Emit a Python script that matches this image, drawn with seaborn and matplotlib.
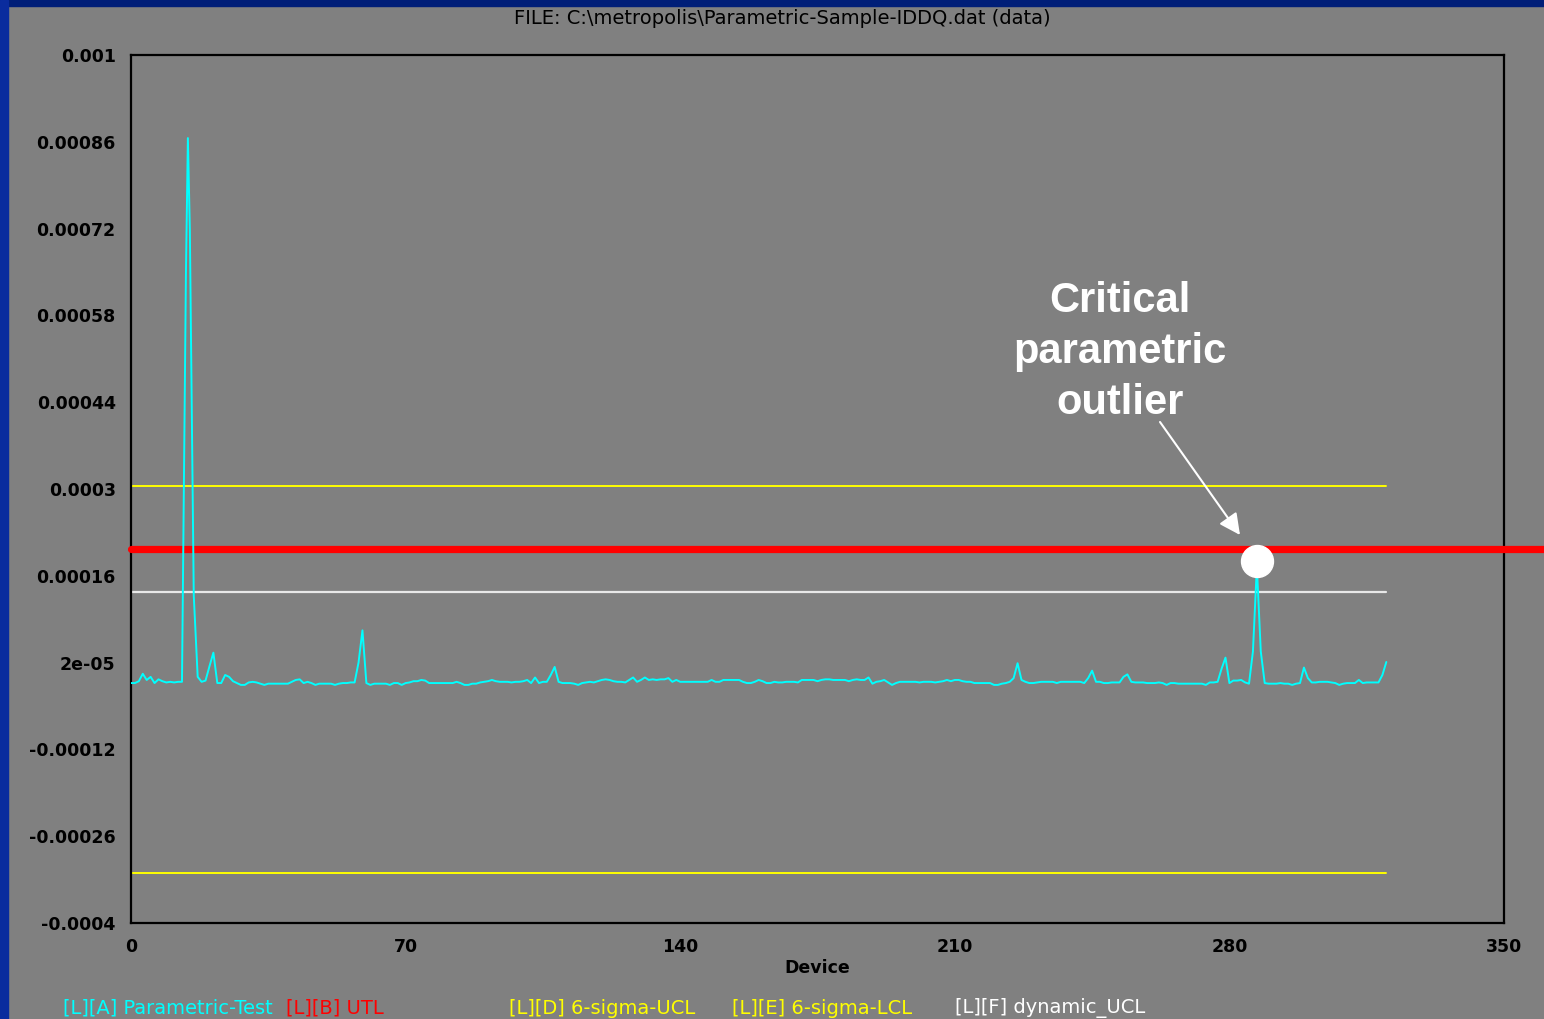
import numpy as np
import pandas as pd
import matplotlib
matplotlib.use("Agg")
import matplotlib.pyplot as plt
from matplotlib.patches import Rectangle
import seaborn as sns

# ---------------- data (values in micro-amps) ----------------
iddq_uA = [
    -13, -13, -10, 2, -8, -3, -13, -7, -10, -12,          # 0-9
    -11, -12, -11, -11, 646, 718, 128, -3, -11, -9,      # 10-19
    14, 36, -13, -13, 0, -3, -10, -13, -16, -16,          # 20-29
    -12, -11, -12, -14, -16, -14, -14, -14, -14, -14,     # 30-39
    -14, -11, -8, -7, -13, -11, -13, -16, -14, -14,       # 40-49
    -14, -14, -16, -14, -13, -13, -12, -12, 20, 72,       # 50-59
    -13, -16, -14, -14, -14, -14, -16, -13, -13, -16,     # 60-69
    -13, -12, -10, -10, -8, -9, -13, -13, -13, -13,       # 70-79
    -13, -13, -13, -11, -13, -16, -16, -14, -14, -12,     # 80-89
    -11, -10, -8, -10, -11, -11, -11, -12, -11, -11,      # 90-99
    -10, -8, -13, -4, -13, -11, -11, 0, 13, -11,          # 100-109
    -13, -13, -13, -14, -16, -13, -12, -11, -12, -10,     # 110-119
    -8, -7, -8, -10, -11, -11, -12, -8, -4, -11,          # 120-129
    -8, -4, -8, -7, -8, -7, -7, -5, -11, -8,              # 130-139
    -11, -11, -11, -11, -11, -11, -11, -11, -8, -11,      # 140-149
    -11, -8, -8, -8, -8, -8, -11, -13, -13, -11,          # 150-159
    -8, -10, -13, -13, -11, -12, -12, -11, -11, -11,      # 160-169
    -12, -8, -8, -8, -8, -10, -8, -7, -7, -8,             # 170-179
    -8, -8, -8, -10, -8, -7, -8, -8, -4, -14,             # 180-189
    -11, -10, -8, -12, -16, -13, -11, -11, -11, -11,      # 190-199
    -11, -12, -11, -11, -11, -12, -11, -10, -8, -10,      # 200-209
    -8, -8, -10, -11, -11, -13, -13, -13, -13, -13,       # 210-219
    -16, -16, -14, -13, -11, -5, 19, -8, -11, -13,        # 220-229
    -13, -12, -11, -11, -11, -11, -13, -11, -11, -11,     # 230-239
    -11, -11, -11, -13, -5, 7, -11, -11, -13, -13,        # 240-249
    -12, -12, -12, -3, 1, -11, -12, -12, -12, -13,        # 250-259
    -13, -13, -12, -13, -16, -13, -13, -14, -14, -14,     # 260-269
    -14, -14, -14, -14, -16, -12, -12, -11, 10, 28,       # 270-279
    -13, -9, -9, -8, -12, -14, 38, 175, 38, -13,          # 280-289
    -14, -14, -14, -13, -14, -14, -16, -14, -13, 12,      # 290-299
    -5, -12, -12, -11, -11, -11, -12, -13, -16, -14,      # 300-309
    -13, -13, -13, -8, -13, -12, -12, -12, -12, 0,        # 310-319
    21,                                                   # 320
]
# extra half-step samples inside the big early excursion
extra_device = [14.5, 15.5]
extra_uA = [866, 424]

utl = 203e-6
six_sigma_ucl = 305e-6
six_sigma_lcl = -319e-6
dynamic_ucl = 134e-6
outlier_device = 287
outlier_value = 184e-6

y_ticks = [0.001, 0.00086, 0.00072, 0.00058, 0.00044, 0.0003, 0.00016, 2e-05,
           -0.00012, -0.00026, -0.0004]
y_tick_labels = ["0.001", "0.00086", "0.00072", "0.00058", "0.00044", "0.0003",
                 "0.00016", "2e-05", "-0.00012", "-0.00026", "-0.0004"]
x_ticks = [0, 70, 140, 210, 280, 350]
x_minor = [35, 105, 175, 245, 315]

title = "FILE: C:\\metropolis\\Parametric-Sample-IDDQ.dat (data)"
legend_items = [("[L][A] Parametric-Test", "#00FFFF"),
                ("[L][B] UTL", "#FF0000"),
                ("[L][D] 6-sigma-UCL", "#FFFF00"),
                ("[L][E] 6-sigma-LCL", "#FFFF00"),
                ("[L][F] dynamic_UCL", "#FFFFFF")]

# ---------------- build table ----------------
dev = list(range(len(iddq_uA))) + extra_device
vals = list(iddq_uA) + extra_uA
df = pd.DataFrame({"Device": dev, "IDDQ": np.array(vals) * 1e-6}).sort_values("Device")
n_last = len(iddq_uA) - 1

# ---------------- figure ----------------
sns.set_style("white")
plt.rcParams["font.family"] = ["DejaVu Sans"]
plt.rcParams["text.color"] = "black"
plt.rcParams["xtick.color"] = "black"
plt.rcParams["ytick.color"] = "black"
plt.rcParams["axes.labelcolor"] = "black"
GRAY = "#808080"
fig = plt.figure(figsize=(15.44, 10.19), dpi=100, facecolor=GRAY)
ax = fig.add_axes([131 / 1544, 1 - 923 / 1019, 1373 / 1544, 868 / 1019])
ax.set_facecolor(GRAY)

# reference lines
ax.plot([0, n_last], [six_sigma_ucl] * 2, color="#FFFF00", lw=1.4, zorder=2)
ax.plot([0, n_last], [six_sigma_lcl] * 2, color="#FFFF00", lw=1.4, zorder=2)
ax.plot([0, n_last], [dynamic_ucl] * 2, color="#E8E8E8", lw=1.6, zorder=2)
ax.axhline(utl, xmin=0, xmax=(1544 - 131) / 1373, color="#FF0000", lw=5.2,
           clip_on=False, zorder=3)

sns.lineplot(data=df, x="Device", y="IDDQ", ax=ax, color="#00FFFF", lw=1.4,
             sort=False, zorder=4, legend=False)

ax.plot([outlier_device], [outlier_value], "o", color="white", ms=23, zorder=6,
        clip_on=False)

ax.set_xlim(0, 350)
ax.set_ylim(-0.0004, 0.001)
ax.set_xticks(x_ticks)
ax.set_xticklabels([str(t) for t in x_ticks], fontweight="bold", fontsize=12.5,
                   color="black")
ax.set_xticks(x_minor, minor=True)
ax.set_yticks(y_ticks)
ax.set_yticklabels(y_tick_labels, fontweight="bold", fontsize=12.5, color="black")
ax.tick_params(axis="x", which="major", direction="out", length=6, width=1.5,
               color="black", pad=5)
ax.tick_params(axis="x", which="minor", direction="in", length=6, width=1.2,
               color="black")
ax.tick_params(axis="y", which="major", direction="in", length=4, width=1.5,
               color="black", pad=11)
for s in ax.spines.values():
    s.set_color("black")
    s.set_linewidth(1.6)
ax.set_xlabel("Device", fontweight="bold", fontsize=12.5, labelpad=2,
              color="black")
ax.set_ylabel("")

# annotation
ax.annotate("", xy=((1240 - 131) / 1373, (923 - 535) / 868),
            xytext=((1160 - 131) / 1373, (923 - 422) / 868),
            xycoords="axes fraction", textcoords="axes fraction",
            arrowprops=dict(arrowstyle="-|>", color="white", lw=1.5,
                            mutation_scale=32, shrinkA=0, shrinkB=0),
            zorder=7)
ax.text((1120 - 131) / 1373, (923 - 352) / 868, "Critical\nparametric\noutlier",
        transform=ax.transAxes, ha="center", va="center", color="white",
        fontsize=30, fontweight="bold", family="Liberation Sans",
        linespacing=1.37, zorder=7)

# title
fig.text(782 / 1544, 1 - 18 / 1019, title, ha="center", va="center",
         fontsize=14, color="black")

# legend-like colored labels along the bottom
leg_x = [63, 286, 509, 732, 955]
for (txt, col), xp in zip(legend_items, leg_x):
    fig.text(xp / 1544, 1 - 1008 / 1019, txt, ha="left", va="center",
             fontsize=14, color=col)

# window border
fig.add_artist(Rectangle((0, 1 - 6 / 1019), 1, 6 / 1019, transform=fig.transFigure,
                         color="#001E78", zorder=10))
fig.add_artist(Rectangle((0, 0), 8 / 1544, 1, transform=fig.transFigure,
                         color="#0A2C9E", zorder=10))

fig.savefig("out.png", dpi=100, facecolor=GRAY)
